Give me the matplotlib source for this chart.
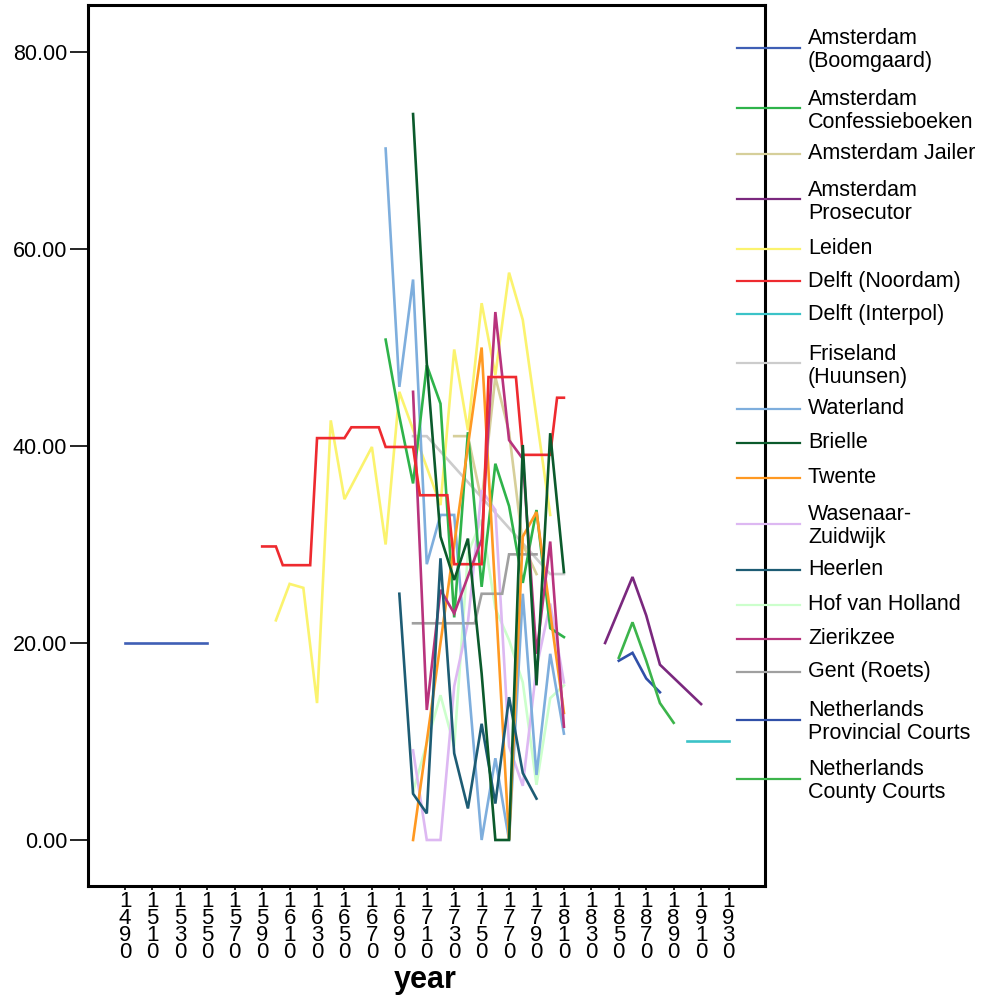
import numpy as np
import matplotlib.pyplot as plt
from matplotlib.lines import Line2D

plt.rcParams['font.family'] = ['Liberation Sans', 'DejaVu Sans']

# per-source series: years and values
boomgaard_years = [1490, 1500, 1510, 1520, 1530, 1540, 1550]
boomgaard_vals = [20, 20, 20, 20, 20, 20, 20]

confessie_years = [1680, 1690, 1700, 1710, 1720, 1730, 1740, 1750, 1760, 1770, 1780, 1790, 1800, 1810]
confessie_vals = [50.8, 43.0, 36.2, 48.2, 44.3, 22.6, 41.4, 25.7, 38.2, 33.9, 26.1, 33.5, 21.5, 20.6]

jailer_years = [1730, 1740, 1750, 1760, 1770, 1780, 1790]
jailer_vals = [41.0, 41.0, 34.4, 47.0, 41.4, 30.0, 27.0]

prosecutor_years = [1840, 1860, 1870, 1880, 1910]
prosecutor_vals = [20.0, 26.7, 22.8, 17.8, 13.8]

leiden_years = [1600, 1610, 1620, 1630, 1640, 1650, 1670, 1680, 1690, 1720, 1730, 1740, 1750, 1760, 1770, 1780, 1800]
leiden_vals = [22.3, 26.0, 25.6, 13.9, 42.6, 34.6, 39.9, 30.0, 45.5, 34.0, 49.8, 41.6, 54.5, 47.2, 57.6, 52.8, 33.0]

noordam_years = [1590, 1600, 1605, 1625, 1630, 1650, 1655, 1675, 1680, 1700, 1705, 1725,
                 1730, 1750, 1755, 1775, 1780, 1800, 1805, 1810]
noordam_vals = [29.8, 29.8, 27.9, 27.9, 40.8, 40.8, 41.9, 41.9, 39.9, 39.9, 35.0, 35.0,
                28.0, 28.0, 47.0, 47.0, 39.1, 39.1, 44.9, 44.9]

interpol_years = [1900, 1910, 1920, 1930]
interpol_vals = [10, 10, 10, 10]

friseland_years = [1700, 1710, 1800, 1810]
friseland_vals = [41.0, 41.0, 27.0, 27.0]

waterland_years = [1680, 1690, 1700, 1710, 1720, 1730, 1750, 1760, 1770, 1780, 1790, 1800, 1810]
waterland_vals = [70.2, 46.0, 56.9, 28.0, 33.0, 33.0, 0.0, 8.3, 0.0, 25.0, 6.6, 18.9, 10.8]

brielle_years = [1700, 1710, 1720, 1730, 1740, 1750, 1760, 1770, 1780, 1790, 1800, 1810]
brielle_vals = [73.7, 48.4, 30.8, 26.4, 30.6, 16.9, 0.0, 0.0, 40.1, 15.7, 41.3, 27.2]

twente_years = [1700, 1750, 1760, 1770, 1780, 1790, 1810]
twente_vals = [0.0, 50.0, 25.0, 0.0, 30.8, 33.3, 12.9]

wasenaar_years = [1700, 1710, 1720, 1730, 1740, 1750, 1760, 1770, 1780, 1790, 1800, 1810]
wasenaar_vals = [9.1, 0.0, 0.0, 15.6, 22.1, 35.5, 33.5, 9.5, 5.5, 17.5, 24.0, 16.0]

heerlen_years = [1690, 1700, 1710, 1720, 1730, 1740, 1750, 1760, 1770, 1780, 1790]
heerlen_vals = [25.0, 4.7, 2.7, 28.6, 8.8, 3.2, 11.8, 3.7, 14.5, 6.8, 4.2]

hof_years = [1700, 1720, 1730, 1740, 1750, 1760, 1770, 1780, 1790, 1800, 1810]
hof_vals = [4.9, 14.7, 9.5, 29.1, 32.5, 23.5, 20.3, 16.0, 5.6, 14.4, 15.7]

zierikzee_years = [1700, 1710, 1720, 1730, 1750, 1760, 1770, 1780, 1790, 1800, 1810]
zierikzee_vals = [45.5, 13.2, 25.4, 23.0, 30.5, 53.6, 40.6, 38.7, 18.9, 30.3, 11.5]

gent_years = [1700, 1745, 1750, 1765, 1770, 1790]
gent_vals = [22.0, 22.0, 25.0, 25.0, 29.0, 29.0]

provincial_years = [1850, 1860, 1870, 1880]
provincial_vals = [18.2, 19.0, 16.4, 15.0]

county_years = [1850, 1860, 1870, 1880, 1890]
county_vals = [18.5, 22.1, 18.2, 13.9, 11.9]

labels = ["Amsterdam\n(Boomgaard)", "Amsterdam\nConfessieboeken", "Amsterdam Jailer",
          "Amsterdam\nProsecutor", "Leiden", "Delft (Noordam)", "Delft (Interpol)",
          "Friseland\n(Huunsen)", "Waterland", "Brielle", "Twente", "Wasenaar-\nZuidwijk",
          "Heerlen", "Hof van Holland", "Zierikzee", "Gent (Roets)",
          "Netherlands\nProvincial Courts", "Netherlands\nCounty Courts"]
colors = ["#3f5fb5", "#2eb34a", "#d6cf9a", "#7a287e", "#fbf36e", "#ee2a2f", "#3bc3c8",
          "#cccccc", "#7eaedd", "#0b5a2c", "#ff9922", "#ddb8f2", "#1d5c74", "#ccffcc",
          "#b8337d", "#a0a0a0", "#3050a8", "#3cb44b"]
series = [(boomgaard_years, boomgaard_vals), (confessie_years, confessie_vals),
          (jailer_years, jailer_vals), (prosecutor_years, prosecutor_vals),
          (leiden_years, leiden_vals), (noordam_years, noordam_vals),
          (interpol_years, interpol_vals), (friseland_years, friseland_vals),
          (waterland_years, waterland_vals), (brielle_years, brielle_vals),
          (twente_years, twente_vals), (wasenaar_years, wasenaar_vals),
          (heerlen_years, heerlen_vals), (hof_years, hof_vals),
          (zierikzee_years, zierikzee_vals), (gent_years, gent_vals),
          (provincial_years, provincial_vals), (county_years, county_vals)]

tick_years = list(range(1490, 1931, 20))
y_ticks = [0, 20, 40, 60, 80]

W, H = 984, 998
fig = plt.figure(figsize=(W / 100, H / 100), dpi=100)
ax = fig.add_axes([88 / W, 1 - 886 / H, (765 - 88) / W, (886 - 5) / H])

# background series first so darker ones sit on top
order = [7, 13, 4, 2, 11, 15, 8, 6, 0, 16, 17, 3, 1, 10, 14, 5, 12, 9]
for i in order:
    xs, ys = series[i]
    ax.plot(xs, ys, color=colors[i], lw=1.9, solid_joinstyle='miter', zorder=2)

ax.set_xlim(1463, 1956.6)
ax.set_ylim(-4.67, 84.77)
ax.set_xticks(tick_years)
ax.set_xticklabels(["\n".join(str(y)) for y in tick_years], fontsize=16,
                   linespacing=0.76, va='top')
ax.set_yticks(y_ticks)
ax.set_yticklabels([f"{v:.2f}" for v in y_ticks], fontsize=15.5)
ax.tick_params(axis='y', direction='out', length=13, width=1.2, pad=2)
ax.tick_params(axis='x', direction='out', length=3, width=1.2, pad=0.5)
for s in ax.spines.values():
    s.set_linewidth(2.2)

# axis title sits under the stacked year digits
fig.text(425 / W, 1 - 988 / H, "year", fontsize=22, fontweight='bold',
         ha='center', va='baseline')

# legend drawn by hand in pixel positions, straddling the right frame
legend_y = [47.8, 108.4, 153.8, 199.3, 248.8, 281.0, 314.4, 363.4, 408.9, 442.7,
            478.0, 523.5, 569.5, 604.8, 638.7, 671.5, 719.5, 778.6]
for lab, c, ly in zip(labels, colors, legend_y):
    yf = 1 - ly / H
    fig.add_artist(Line2D([737 / W, 800 / W], [yf, yf], color=c, lw=1.6,
                          transform=fig.transFigure))
    off = 2.5 if "\n" in lab else 0
    fig.text(808 / W, 1 - (ly + off) / H, lab, fontsize=15.5, va='center', ha='left',
             linespacing=1.1)

fig.savefig("out.png", dpi=100)
